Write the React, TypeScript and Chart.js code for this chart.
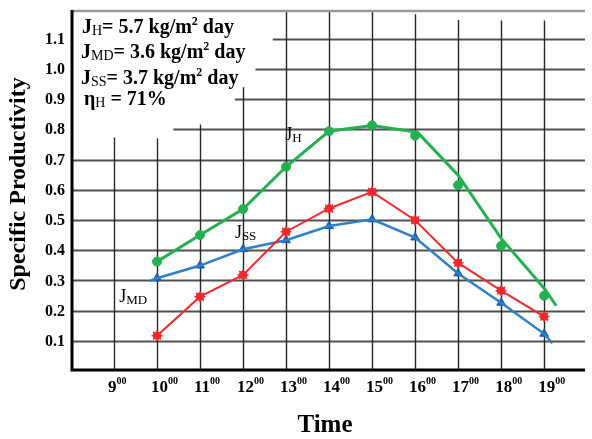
import React, { useEffect, useRef } from "react";
import { Chart, registerables } from "chart.js";

Chart.register(...registerables);

// ---------- data ----------
const HOURS = [10, 11, 12, 13, 14, 15, 16, 17, 18, 19];
const TICK_HOURS = [9, 10, 11, 12, 13, 14, 15, 16, 17, 18, 19];
const Y_TICKS = [0.1, 0.2, 0.3, 0.4, 0.5, 0.6, 0.7, 0.8, 0.9, 1.0, 1.1];
const Y_TICK_LABELS = ["0.1", "0.2", "0.3", "0.4", "0.5", "0.6", "0.7", "0.8", "0.9", "1.0", "1.1"];

// J_H (green): measured points and the hand-drawn line through them
const GREEN_MARKERS = [0.362, 0.45, 0.536, 0.676, 0.794, 0.813, 0.779, 0.615, 0.414, 0.249];
const GREEN_LINE_X = [10, 11, 12, 13, 14, 15, 16.06, 17, 18, 19, 19.28];
const GREEN_LINE_Y = [0.362, 0.45, 0.536, 0.676, 0.794, 0.813, 0.79, 0.648, 0.439, 0.274, 0.216];

// J_MD (red)
const RED_MARKERS = [0.117, 0.246, 0.318, 0.461, 0.538, 0.593, 0.499, 0.358, 0.266, 0.18];
const RED_LINE_X = [10, 11, 12, 13, 14, 15, 16, 17, 18, 19, 19.09];
const RED_LINE_Y = [0.117, 0.246, 0.318, 0.461, 0.538, 0.593, 0.499, 0.358, 0.266, 0.18, 0.169];

// J_SS (blue)
const BLUE_MARKERS = [0.307, 0.349, 0.403, 0.433, 0.48, 0.502, 0.442, 0.323, 0.226, 0.123];
const BLUE_LINE_X = [9.84, 10, 11, 12, 13, 14, 15, 16, 17, 18, 19, 19.19];
const BLUE_LINE_Y = [0.298, 0.307, 0.349, 0.403, 0.433, 0.48, 0.502, 0.442, 0.323, 0.226, 0.123, 0.092];

// hand-drawn grid extents (data units)
const V_GRID_TOP = [0.773, 0.77, 0.816, 0.939, 1.195, 1.19, 1.195, 1.181, 1.162, 1.16, 1.16];
const H_GRID_START = [8, 8, 8, 8, 8, 8, 8, 10.38, 11.81, 12.29, 12.69];

const X_MIN = 8;
const X_MAX = 19.95;
const Y_MIN = 0;
const Y_MAX = 1.195;

const SERIF = '"Liberation Serif", "Times New Roman", serif';
const GREEN = "#22b14f";
const RED = "#ee2a2f";
const BLUE_LINE = "#2f80c8";
const BLUE_MARK = "#1f5fb0";

type Part = [string, string, number];

function drawRich(ctx: CanvasRenderingContext2D, x: number, y: number, parts: Part[]) {
  let cx = x;
  for (const [t, f, dy] of parts) {
    ctx.font = f;
    ctx.fillText(t, cx, y + dy);
    cx += ctx.measureText(t).width;
  }
}

const decoPlugin = {
  id: "deco",
  beforeDatasetsDraw(chart: any) {
    const ctx: CanvasRenderingContext2D = chart.ctx;
    const xs = chart.scales.x;
    const ys = chart.scales.y;
    ctx.save();
    // horizontal grid
    ctx.strokeStyle = "#505050";
    ctx.lineWidth = 1.8;
    Y_TICKS.forEach((v, i) => {
      const py = Math.round(ys.getPixelForValue(v)) + 0.5;
      ctx.beginPath();
      ctx.moveTo(xs.getPixelForValue(H_GRID_START[i]), py);
      ctx.lineTo(xs.getPixelForValue(X_MAX), py);
      ctx.stroke();
    });
    // vertical grid
    ctx.strokeStyle = "#262626";
    ctx.lineWidth = 1.4;
    TICK_HOURS.forEach((h, i) => {
      const px = Math.round(xs.getPixelForValue(h)) + 0.5;
      ctx.beginPath();
      ctx.moveTo(px, ys.getPixelForValue(V_GRID_TOP[i]));
      ctx.lineTo(px, ys.getPixelForValue(Y_MIN));
      ctx.stroke();
    });
    // top border
    ctx.strokeStyle = "#9a9a9a";
    ctx.lineWidth = 2.5;
    ctx.beginPath();
    ctx.moveTo(xs.getPixelForValue(X_MIN), ys.getPixelForValue(Y_MAX) + 1);
    ctx.lineTo(xs.getPixelForValue(X_MAX), ys.getPixelForValue(Y_MAX) + 1);
    ctx.stroke();
    ctx.restore();
  },
  afterDatasetsDraw(chart: any) {
    const ctx: CanvasRenderingContext2D = chart.ctx;
    const xs = chart.scales.x;
    const ys = chart.scales.y;
    ctx.save();
    // axes
    ctx.strokeStyle = "#000";
    ctx.lineWidth = 3;
    const x0 = xs.getPixelForValue(X_MIN) + 1;
    const y0 = ys.getPixelForValue(Y_MIN) - 1;
    ctx.beginPath();
    ctx.moveTo(x0, ys.getPixelForValue(Y_MAX));
    ctx.lineTo(x0, y0);
    ctx.lineTo(xs.getPixelForValue(X_MAX), y0);
    ctx.stroke();

    ctx.fillStyle = "#000";
    // y tick labels
    ctx.font = `bold 16px ${SERIF}`;
    ctx.textAlign = "right";
    ctx.textBaseline = "middle";
    Y_TICKS.forEach((v, i) => {
      ctx.fillText(Y_TICK_LABELS[i], x0 - 7, ys.getPixelForValue(v) + 1);
    });
    // x tick labels
    ctx.textAlign = "left";
    ctx.textBaseline = "alphabetic";
    TICK_HOURS.forEach((h) => {
      drawRich(ctx, xs.getPixelForValue(h) - 6, 392, [
        [String(h), `bold 17px ${SERIF}`, 0],
        ["00", `bold 10px ${SERIF}`, -8],
      ]);
    });
    // axis titles
    ctx.font = `bold 25px ${SERIF}`;
    ctx.textAlign = "center";
    ctx.textBaseline = "middle";
    ctx.fillText("Time", 325, 426);
    ctx.save();
    ctx.translate(19, 184);
    ctx.rotate(-Math.PI / 2);
    ctx.font = `bold 24px ${SERIF}`;
    ctx.fillText("Specific Productivity", 0, 0);
    ctx.restore();

    // annotation block
    ctx.textAlign = "left";
    ctx.textBaseline = "alphabetic";
    const B = `bold 20px ${SERIF}`;
    const S = `14px ${SERIF}`;
    const SUP = `bold 12px ${SERIF}`;
    drawRich(ctx, 82, 33, [["J", B, 0], ["H", S, 2], ["= 5.7 kg/m", B, 0], ["2", SUP, -8], [" day", B, 0]]);
    drawRich(ctx, 81, 58, [["J", B, 0], ["MD", S, 2], ["= 3.6 kg/m", B, 0], ["2", SUP, -8], [" day", B, 0]]);
    drawRich(ctx, 81, 83.5, [["J", B, 0], ["SS", S, 2], ["= 3.7 kg/m", B, 0], ["2", SUP, -8], [" day", B, 0]]);
    drawRich(ctx, 84, 105, [["\u03b7", B, 0], ["H", S, 2], [" = 71%", B, 0]]);

    // series labels on the plot
    const J = `18px ${SERIF}`;
    const JS = `13px ${SERIF}`;
    drawRich(ctx, xs.getPixelForValue(12.98), ys.getPixelForValue(0.765), [["J", J, 0], ["H", JS, 2]]);
    drawRich(ctx, xs.getPixelForValue(11.81), ys.getPixelForValue(0.44), [["J", J, 0], ["SS", JS, 2]]);
    drawRich(ctx, xs.getPixelForValue(9.12), ys.getPixelForValue(0.229), [["J", J, 0], ["MD", JS, 2]]);
    ctx.restore();
  },
};

function pts(xsArr: number[], ysArr: number[]) {
  return xsArr.map((x, i) => ({ x, y: ysArr[i] }));
}

export default function App() {
  const ref = useRef<HTMLCanvasElement>(null);
  useEffect(() => {
    if (!ref.current) return;
    const chart = new Chart(ref.current, {
      type: "scatter",
      data: {
        datasets: [
          {
            label: "J_H line",
            data: pts(GREEN_LINE_X, GREEN_LINE_Y),
            showLine: true,
            borderColor: GREEN,
            borderWidth: 3,
            pointRadius: 0,
          },
          {
            label: "J_H",
            data: pts(HOURS, GREEN_MARKERS),
            showLine: false,
            pointStyle: "circle",
            pointRadius: 4.5,
            backgroundColor: GREEN,
            borderColor: GREEN,
          },
          {
            label: "J_MD line",
            data: pts(RED_LINE_X, RED_LINE_Y),
            showLine: true,
            borderColor: RED,
            borderWidth: 2,
            pointRadius: 0,
          },
          {
            label: "J_MD",
            data: pts(HOURS, RED_MARKERS),
            showLine: false,
            pointStyle: "circle",
            pointRadius: 3.8,
            backgroundColor: RED,
            borderColor: RED,
          },
          {
            label: "J_MD star",
            data: pts(HOURS, RED_MARKERS),
            showLine: false,
            pointStyle: "star",
            pointRadius: 5.5,
            borderWidth: 1.5,
            backgroundColor: RED,
            borderColor: RED,
          },
          {
            label: "J_SS line",
            data: pts(BLUE_LINE_X, BLUE_LINE_Y),
            showLine: true,
            borderColor: BLUE_LINE,
            borderWidth: 2.5,
            pointRadius: 0,
          },
          {
            label: "J_SS",
            data: pts(HOURS, BLUE_MARKERS),
            showLine: false,
            pointStyle: "triangle",
            pointRadius: 5,
            backgroundColor: BLUE_MARK,
            borderColor: BLUE_MARK,
          },
        ],
      },
      options: {
        responsive: false,
        animation: false,
        events: [],
        layout: { padding: { left: 71, right: 0, top: 10, bottom: 68 } },
        plugins: { legend: { display: false }, tooltip: { enabled: false } },
        scales: {
          x: { type: "linear", display: false, min: X_MIN, max: X_MAX },
          y: { type: "linear", display: false, min: Y_MIN, max: Y_MAX },
        },
      },
      plugins: [decoPlugin],
    });
    return () => chart.destroy();
  }, []);
  return (
    <div style={{ position: "fixed", left: 0, top: 0, width: 592, height: 439, background: "#fff" }}>
      <canvas ref={ref} width={592} height={439} style={{ display: "block" }} />
    </div>
  );
}
